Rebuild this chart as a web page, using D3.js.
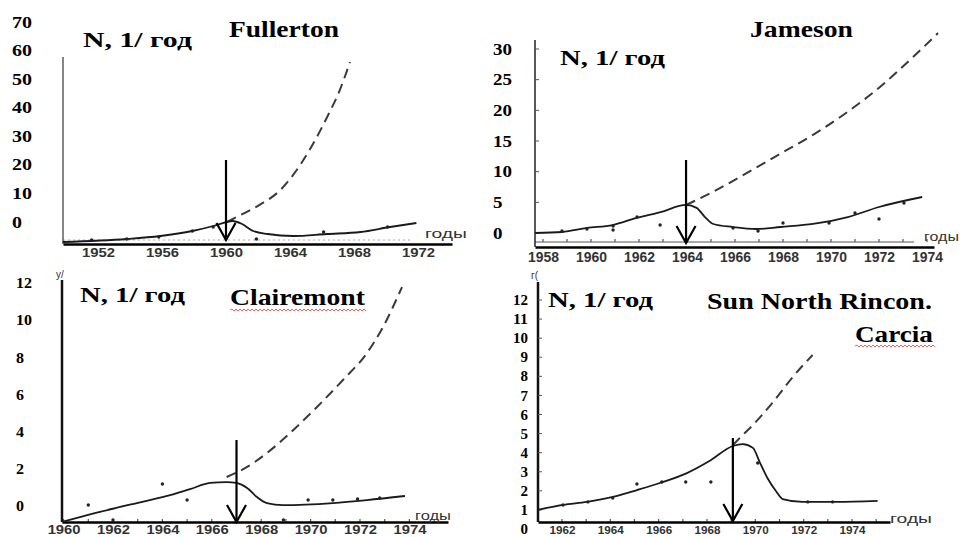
<!DOCTYPE html>
<html><head><meta charset="utf-8">
<script src="https://cdn.jsdelivr.net/npm/d3@7/dist/d3.min.js"></script>
<style>body{margin:0;background:#fff}svg{display:block}</style>
</head><body>
<svg id="chart" width="963" height="537"></svg>
<script>
// ---------------- DATA (in the units of the printed y labels) -------------
// Fullerton
const fullertonXTicks = [1952, 1956, 1960, 1964, 1968, 1972];
const fullertonYTicks = [0, 10, 20, 30, 40, 50, 60, 70];
const fullertonFit = [[1949.8,-7.0],[1953.8,-5.95],[1955.9,-4.9],[1957.9,-3.15],[1959.2,-1.4],[1960.06,0],[1960.4,0.35],[1961.0,-0.7],[1961.7,-3.15],[1962.6,-4.2],[1964.2,-4.9],[1966.3,-4.2],[1968.4,-3.5],[1970.25,-1.75],[1971.9,-0.35]];
const fullertonForecast = [[1960.06,0],[1960.9,2.4],[1962.1,6],[1963.4,11.2],[1964.2,16.5],[1965.2,25],[1966.3,36.5],[1967.1,46],[1967.75,56]];
const fullertonObserved = [[1951.6,-6.3],[1953.8,-5.95],[1955.8,-5.25],[1957.9,-3.15],[1959.2,-1.75],[1961.9,-5.95],[1966.1,-3.5],[1970.1,-1.75]];
const fullertonArrow = [1960.0, 21.7, -6.3];   // year, top value, tip value

// Jameson
const jamesonXTicks = [1958, 1960, 1962, 1964, 1966, 1968, 1970, 1972, 1974];
const jamesonYTicks = [0, 5, 10, 15, 20, 25, 30];
const jamesonFit = [[1957.67,0],[1958.8,0.16],[1959.83,0.82],[1960.9,1.3],[1961.9,2.45],[1962.9,3.4],[1963.96,4.57],[1964.4,4.1],[1964.75,2.6],[1965.1,1.47],[1965.9,0.98],[1966.9,0.65],[1967.9,0.98],[1969.25,1.47],[1970.7,2.6],[1972.0,4.24],[1973.8,5.87]];
const jamesonForecast = [[1963.96,4.57],[1965.08,6.7],[1966.5,9.8],[1967.88,12.9],[1969.25,16.0],[1970.67,19.7],[1972.04,23.8],[1973.42,28.7],[1974.46,32.6]];
const jamesonObserved = [[1958.79,0.33],[1959.83,0.65],[1960.92,1.14],[1960.92,0.49],[1961.92,2.61],[1962.88,1.3],[1965.92,0.82],[1966.96,0.33],[1968.0,1.63],[1969.92,1.63],[1971.0,3.26],[1972.0,2.28],[1973.04,4.89]];
const jamesonArrow = [1963.96, 11.9, -1.63];

// Clairemont
const clairemontXTicks = [1960, 1962, 1964, 1966, 1968, 1970, 1972, 1974];
const clairemontYTicks = [0, 2, 4, 6, 8, 10, 12];
const clairemontFit = [[1959.94,-0.86],[1961.47,-0.32],[1962.97,0.16],[1964.19,0.54],[1965.12,0.91],[1965.93,1.24],[1966.6,1.29],[1967.0,1.24],[1967.43,0.97],[1967.83,0.48],[1968.23,0.16],[1968.88,0.05],[1970.9,0.16],[1972.28,0.32],[1973.82,0.54]];
const clairemontForecast = [[1966.6,1.56],[1967.43,2.1],[1968.23,2.85],[1969.17,3.93],[1970.26,5.33],[1971.31,6.78],[1972.28,8.23],[1972.93,9.63],[1973.7,11.78]];
const clairemontObserved = [[1961.0,0.05],[1962.0,-0.75],[1964.0,1.18],[1965.0,0.32],[1968.9,-0.75],[1969.9,0.32],[1970.9,0.32],[1971.9,0.38],[1972.8,0.43]];
const clairemontArrow = [1967.0, 3.55, -0.86];

// Sun North Rincon. Carcia
const carciaXTicks = [1962, 1964, 1966, 1968, 1970, 1972, 1974];
const carciaYTicks = [0, 1, 2, 3, 4, 5, 6, 7, 8, 9, 10, 11, 12];
const carciaFit = [[1961.0,1.0],[1962.04,1.26],[1963.03,1.42],[1964.1,1.68],[1965.1,2.04],[1966.05,2.41],[1967.17,2.93],[1968.1,3.56],[1969.07,4.35],[1969.48,4.45],[1969.9,4.25],[1970.18,3.51],[1970.5,2.67],[1970.88,1.94],[1971.13,1.57],[1971.96,1.42],[1973.36,1.42],[1975.06,1.47]];
const carciaForecast = [[1969.07,4.4],[1969.48,4.93],[1969.9,5.45],[1970.7,6.6],[1971.55,7.97],[1972.37,9.12]];
const carciaObserved = [[1962.04,1.26],[1963.07,1.42],[1964.1,1.62],[1965.1,2.36],[1966.13,2.46],[1967.12,2.46],[1968.16,2.46],[1970.1,3.46],[1972.17,1.42],[1973.2,1.42]];
const carciaArrow = [1969.07, 4.77, 0.42];

const yLabelTitle = "N, 1/ год";
const xAxisTitle = "годы";

// ---------------- LAYOUT ----------------
const SERIF = "'Liberation Serif'";
const SANS = "'Liberation Sans'";

const panels = [
  { xTicks: fullertonXTicks, yTicks: fullertonYTicks, fit: fullertonFit, forecast: fullertonForecast,
    observed: fullertonObserved, arrow: fullertonArrow,
    titles: [{t: yLabelTitle, x: 83, y: 47, fs: 22, w: 109}, {t: "Fullerton", x: 229, y: 37, fs: 24, w: 110}],
    xCal: [1952, 98, 1972, 418], xL: 63, xR: 452, axisY: 244,
    yCal: [0, 222, 70, 22], yAxisX: 63, yAxisTop: 57, yAxisW: 1.3, yAxisC: "#444",
    yLabX: 12, yLabAnchor: "start", yLabFs: 16, yLabCw: 10,
    xLabBase: 257, xLabFs: 12, xLabW: 33,
    godX: 425, godY: 238, godFs: 12.5, godW: 42,
    faint: true },
  { xTicks: jamesonXTicks, yTicks: jamesonYTicks, fit: jamesonFit, forecast: jamesonForecast,
    observed: jamesonObserved, arrow: jamesonArrow,
    titles: [{t: yLabelTitle, x: 560, y: 65, fs: 22, w: 105}, {t: "Jameson", x: 750, y: 37, fs: 23, w: 103}],
    xCal: [1958, 543, 1974, 927], xL: 535, xR: 934, axisY: 247,
    yCal: [0, 233, 30, 49], yAxisX: 535, yAxisTop: 40, yAxisW: 1.5, yAxisC: "#222",
    yLabX: 493, yLabAnchor: "start", yLabFs: 16, yLabCw: 9.5,
    xLabBase: 262, xLabFs: 14, xLabW: 31,
    godX: 924, godY: 241, godFs: 13, godW: 35,
    origAxisY: 242, yTickMarks: true, minorX: true },
  { xTicks: clairemontXTicks, yTicks: clairemontYTicks, fit: clairemontFit, forecast: clairemontForecast,
    observed: clairemontObserved, arrow: clairemontArrow,
    titles: [{t: yLabelTitle, x: 80, y: 302, fs: 22, w: 105}, {t: "Clairemont", x: 230, y: 305, fs: 24, w: 135, squiggle: 310}],
    xCal: [1962, 113, 1974, 409.4], xL: 62, xR: 448, axisY: 522,
    yCal: [0, 506, 12, 283], yAxisX: 62, yAxisTop: 280, yAxisW: 2.5, yAxisC: "#111",
    yLabX: 16, yLabAnchor: "start", yLabFs: 15, yLabCw: 8,
    xLabBase: 534, xLabFs: 12, xLabW: 33,
    godX: 415, godY: 520, godFs: 12.5, godW: 36,
    minorX: true, mark: {t: "y/", x: 56, y: 278} },
  { xTicks: carciaXTicks, yTicks: carciaYTicks, fit: carciaFit, forecast: carciaForecast,
    observed: carciaObserved, arrow: carciaArrow,
    titles: [{t: yLabelTitle, x: 548, y: 307, fs: 22, w: 105}, {t: "Sun North Rincon.", x: 707, y: 309, fs: 23, w: 225},
             {t: "Carcia", x: 855, y: 342, fs: 23, w: 78, squiggle: 346}],
    xCal: [1962, 562, 1974, 852], xL: 538, xR: 890, axisY: 522,
    yCal: [0, 529, 12, 300], yAxisX: 538, yAxisTop: 282, yAxisW: 2.5, yAxisC: "#111",
    yLabX: 528, yLabAnchor: "end", yLabFs: 14.5, yLabCw: 7.5,
    xLabBase: 534, xLabFs: 11, xLabW: 26,
    godX: 890, godY: 523, godFs: 13, godW: 42,
    yTickMarks: true, minorX: true, mark: {t: "г(", x: 531, y: 279} }
];

const svg = d3.select("#chart");
svg.append("rect").attr("width", 963).attr("height", 537).attr("fill", "#fff");

function serifText(sel, fs) {
  return sel.style("font-family", SERIF).style("font-weight", "bold").style("font-size", fs + "px").attr("fill", "#000");
}
function sansText(sel, fs, bold) {
  return sel.style("font-family", SANS).style("font-weight", bold ? "bold" : "normal").style("font-size", fs + "px").attr("fill", "#333");
}
// stretch a text horizontally to a target width (keeps its anchor point fixed)
function stretch(sel, widthFn, px, py) {
  sel.each(function(d) {
    const L = this.getComputedTextLength();
    const w = typeof widthFn === "function" ? widthFn(d) : widthFn;
    if (L > 0) {
      const sx = w / L;
      const pre = px !== undefined ? `translate(${px},${py}) ` : "";
      d3.select(this).attr("transform", `${pre}scale(${sx},1)`);
    }
  });
}

panels.forEach((p) => {
  const g = svg.append("g");
  const xs0 = d3.scaleLinear().domain([p.xCal[0], p.xCal[2]]).range([p.xCal[1], p.xCal[3]]);
  const xs = d3.scaleLinear().domain([xs0.invert(p.xL), xs0.invert(p.xR)]).range([p.xL, p.xR]);
  const ys = d3.scaleLinear().domain([p.yCal[0], p.yCal[2]]).range([p.yCal[1], p.yCal[3]]);

  if (p.faint) {
    g.append("line").attr("x1", p.xL).attr("x2", 410).attr("y1", p.axisY - 4).attr("y2", p.axisY - 4)
      .attr("stroke", "#aaa").attr("stroke-width", 1).attr("stroke-dasharray", "2,3");
  }
  if (p.origAxisY) {
    g.append("line").attr("x1", p.xL).attr("x2", p.xR - 20).attr("y1", p.origAxisY).attr("y2", p.origAxisY)
      .attr("stroke", "#555").attr("stroke-width", 1);
  }
  if (p.minorX) {
    const baseY = p.origAxisY || p.axisY;
    const yrs = d3.range(Math.ceil(xs.domain()[0]), Math.floor(xs.domain()[1]) + 1);
    g.append("g").selectAll("line").data(yrs).join("line")
      .attr("x1", d => xs(d)).attr("x2", d => xs(d)).attr("y1", baseY).attr("y2", baseY - 3)
      .attr("stroke", "#555").attr("stroke-width", 1.2);
  }

  // y axis line
  g.append("line").attr("x1", p.yAxisX).attr("x2", p.yAxisX).attr("y1", p.axisY).attr("y2", p.yAxisTop)
    .attr("stroke", p.yAxisC).attr("stroke-width", p.yAxisW);
  if (p.yTickMarks) {
    g.append("g").selectAll("line").data(p.yTicks.filter(v => ys(v) < p.axisY - 6 && ys(v) > p.yAxisTop)).join("line")
      .attr("x1", p.yAxisX).attr("x2", p.yAxisX + 4).attr("y1", d => ys(d)).attr("y2", d => ys(d))
      .attr("stroke", "#555").attr("stroke-width", 1);
  }

  // y labels
  const ya = g.append("g").attr("transform", `translate(${p.yLabX},0)`)
    .call(d3.axisLeft(ys).tickValues(p.yTicks).tickSize(0).tickPadding(0));
  ya.attr("font-family", null).attr("font-size", null);
  ya.select(".domain").remove();
  const yt = serifText(ya.selectAll("text").attr("x", 0).attr("text-anchor", p.yLabAnchor), p.yLabFs);
  stretch(yt, d => String(d).length * p.yLabCw);

  // x axis
  const xa = g.append("g").attr("transform", `translate(0,${p.axisY})`)
    .call(d3.axisBottom(xs).tickValues(p.xTicks).tickFormat(d3.format("d")).tickSize(0).tickSizeOuter(0));
  xa.attr("font-family", null).attr("font-size", null);
  xa.select(".domain").attr("stroke", "#000").attr("stroke-width", 2.5);
  const xt = sansText(xa.selectAll("text").attr("y", p.xLabBase - p.axisY).attr("dy", 0), p.xLabFs, true);
  stretch(xt, p.xLabW);

  // "годы"
  const god = sansText(g.append("text").text(xAxisTitle), p.godFs, false);
  stretch(god, p.godW, p.godX, p.godY);
  if (p.mark) {
    sansText(g.append("text").attr("x", p.mark.x).attr("y", p.mark.y).text(p.mark.t), 10, false);
  }

  // curves
  const line = d3.line().x(d => xs(d[0])).y(d => ys(d[1])).curve(d3.curveMonotoneX);
  g.append("path").datum(p.forecast).attr("d", line).attr("fill", "none")
    .attr("stroke", "#3a3a3a").attr("stroke-width", 2).attr("stroke-dasharray", "10,6");
  g.append("path").datum(p.fit).attr("d", line).attr("fill", "none")
    .attr("stroke", "#1a1a1a").attr("stroke-width", 1.8);
  g.append("g").selectAll("circle").data(p.observed).join("circle")
    .attr("cx", d => xs(d[0])).attr("cy", d => ys(d[1])).attr("r", 1.7).attr("fill", "#222");

  // arrow
  const ax = xs(p.arrow[0]), ay1 = ys(p.arrow[1]), ay2 = ys(p.arrow[2]);
  g.append("line").attr("x1", ax).attr("x2", ax).attr("y1", ay1).attr("y2", ay2)
    .attr("stroke", "#000").attr("stroke-width", 2.2);
  g.append("path").attr("d", `M${ax - 9.5},${ay2 - 17}L${ax},${ay2}L${ax + 9.5},${ay2 - 17}`)
    .attr("fill", "none").attr("stroke", "#000").attr("stroke-width", 2.2);

  // titles
  p.titles.forEach(t => {
    const tt = serifText(g.append("text").text(t.t), t.fs);
    stretch(tt, t.w, t.x, t.y);
    if (t.squiggle) {
      let d = `M${t.x},${t.squiggle}`;
      for (let x = t.x + 2, k = 1; x <= t.x + t.w + 2; x += 2, k++) d += `L${x},${t.squiggle + (k % 2 ? -1 : 1)}`;
      g.append("path").attr("d", d).attr("fill", "none").attr("stroke", "#e04040").attr("stroke-width", 0.8);
    }
  });
});
</script>
</body></html>
